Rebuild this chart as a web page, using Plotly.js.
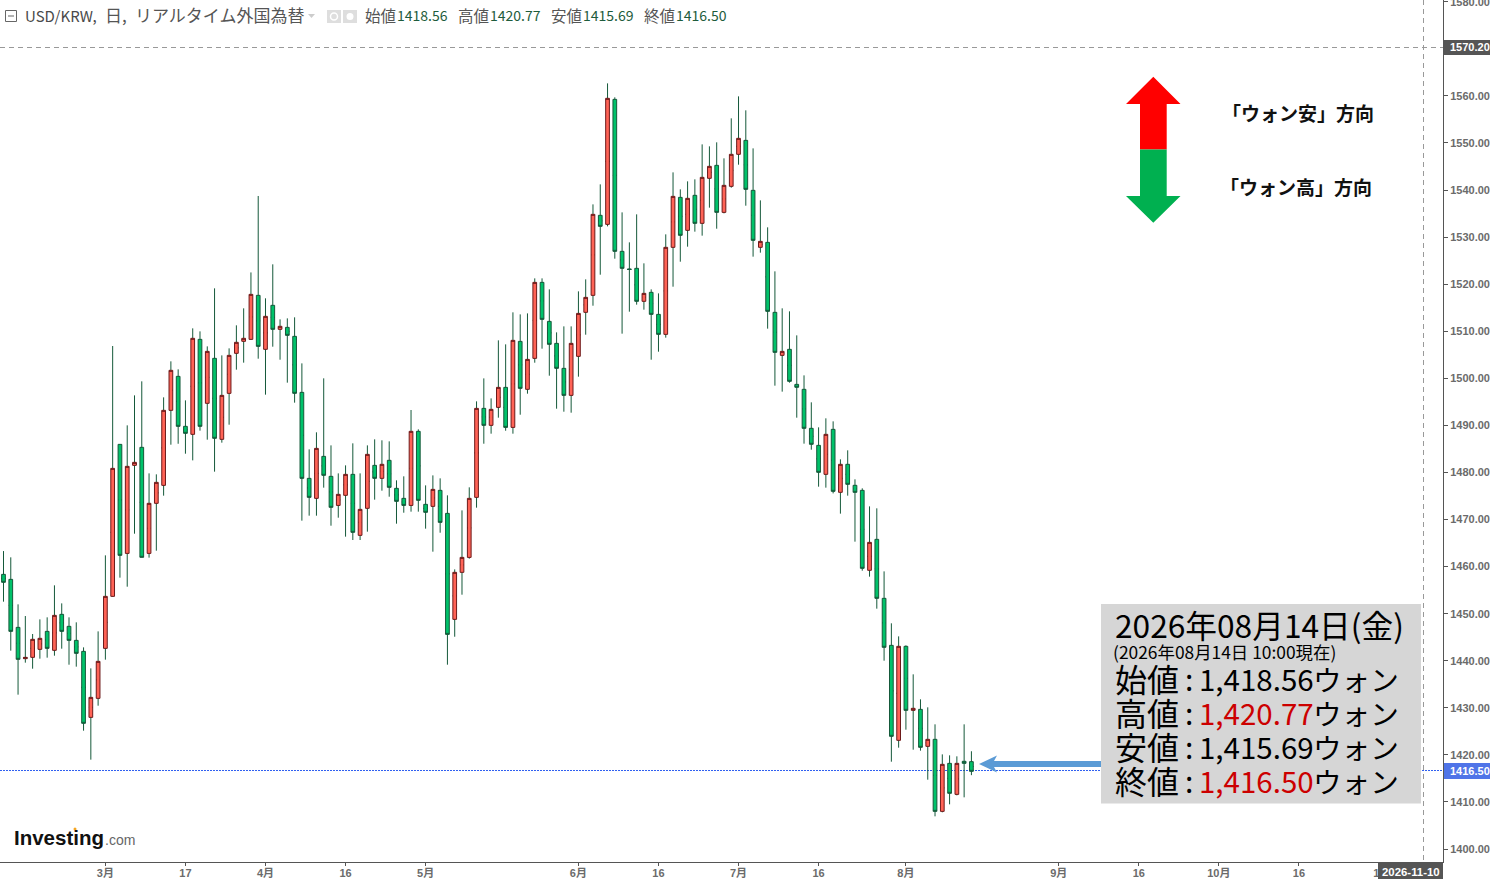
<!DOCTYPE html>
<html>
<head>
<meta charset="utf-8">
<script src="https://cdn.plot.ly/plotly-3.0.1.min.js"></script>
<style>html,body{margin:0;padding:0;background:#fff;overflow:hidden}</style>
</head>
<body>
<div id="chart" style="width:1490px;height:879px"></div>
<script>
const opens = [1458.35,1457.29,1447.09,1440.44,1440.72,1442.42,1446.24,1442.21,1449.86,1447.31,1444.33,1441.99,1427.97,1432.01,1442.63,1453.68,1485.97,1462.81,1481.51,1485.34,1462.81,1473.44,1477.26,1493.20,1500.42,1489.80,1488.10,1508.28,1494.69,1504.25,1487.04,1496.81,1505.31,1507.86,1508.28,1517.63,1506.16,1515.51,1510.41,1510.83,1508.92,1497.02,1478.75,1474.50,1483.42,1479.18,1473.00,1475.14,1479.60,1466.64,1472.38,1481.51,1478.75,1482.58,1476.63,1474.50,1473.00,1488.74,1473.23,1472.80,1476.20,1471.31,1448.79,1458.78,1461.96,1474.71,1493.62,1490.01,1493.83,1498.08,1489.58,1507.85,1497.66,1504.24,1520.39,1512.10,1507.43,1502.12,1496.38,1504.67,1514.02,1517.63,1534.63,1532.71,1559.27,1526.98,1523.15,1523.37,1516.36,1518.27,1513.59,1509.34,1527.83,1538.45,1531.44,1538.88,1532.93,1542.49,1545.25,1535.26,1540.79,1547.59,1550.56,1539.94,1527.83,1528.89,1514.02,1504.88,1506.16,1498.72,1497.66,1489.38,1485.76,1479.60,1489.16,1475.78,1481.73,1477.27,1476.20,1459.21,1465.79,1453.26,1443.27,1423.09,1443.06,1429.46,1429.67,1421.81,1423.30,1408.00,1418.20,1411.61,1418.63,1418.56];
const highs = [1463.30,1461.97,1451.98,1449.50,1445.68,1448.79,1449.22,1456.02,1452.19,1449.22,1448.16,1442.84,1438.38,1446.24,1462.39,1506.87,1485.97,1490.01,1496.38,1499.36,1479.81,1479.60,1495.96,1503.61,1501.91,1495.32,1510.62,1509.98,1506.79,1519.12,1504.88,1506.37,1511.26,1514.87,1522.50,1538.74,1517.00,1524.22,1512.53,1512.74,1512.96,1503.18,1484.91,1488.53,1500.00,1485.76,1479.81,1481.51,1486.19,1479.81,1485.76,1487.04,1486.83,1486.61,1478.33,1479.18,1493.27,1489.16,1477.26,1479.38,1478.75,1475.14,1459.41,1471.95,1476.84,1495.11,1499.99,1495.74,1508.07,1507.22,1514.02,1513.59,1513.80,1521.24,1521.24,1518.90,1509.77,1511.04,1511.04,1518.48,1521.03,1536.96,1541.21,1562.67,1559.70,1535.26,1528.89,1534.84,1524.43,1518.90,1518.05,1530.59,1543.76,1540.15,1541.85,1542.28,1549.71,1549.29,1550.14,1546.74,1555.24,1559.91,1556.94,1548.86,1537.81,1532.08,1522.73,1514.87,1514.23,1509.13,1500.63,1494.90,1489.59,1491.50,1490.86,1482.79,1484.70,1478.54,1476.63,1472.80,1472.38,1458.99,1447.95,1445.18,1443.27,1437.11,1431.80,1430.10,1426.49,1420.11,1419.90,1419.69,1426.49,1420.77];
const lows = [1452.55,1442.14,1432.79,1439.59,1438.31,1440.44,1440.65,1441.07,1442.56,1439.16,1438.74,1425.14,1418.98,1430.45,1440.23,1453.60,1457.65,1455.73,1466.99,1461.97,1461.90,1463.38,1475.07,1485.90,1486.10,1483.99,1482.57,1488.88,1486.97,1480.17,1486.33,1490.15,1501.84,1503.33,1508.20,1504.17,1496.53,1506.72,1503.96,1499.08,1494.83,1469.76,1470.82,1470.82,1476.77,1468.69,1470.39,1466.36,1465.65,1465.65,1467.42,1474.22,1476.13,1474.85,1469.12,1471.45,1471.67,1471.67,1468.06,1463.17,1467.20,1439.16,1445.10,1454.03,1461.68,1472.52,1486.11,1488.24,1491.64,1488.87,1488.24,1492.27,1496.74,1503.32,1506.30,1500.56,1493.55,1492.91,1492.70,1500.35,1509.27,1515.43,1522.02,1532.29,1525.42,1509.49,1514.16,1515.65,1514.59,1503.96,1505.66,1508.64,1519.47,1524.78,1527.97,1531.16,1530.31,1536.26,1531.79,1535.05,1540.50,1545.39,1536.68,1525.85,1526.70,1510.55,1498.44,1497.17,1499.08,1491.64,1486.12,1484.84,1476.98,1476.77,1475.56,1471.25,1475.07,1465.30,1459.13,1457.86,1451.06,1440.01,1418.55,1421.53,1425.35,1421.10,1420.89,1414.73,1406.94,1407.79,1409.49,1411.40,1410.98,1415.69];
const closes = [1456.66,1446.24,1440.30,1440.72,1444.55,1444.76,1442.63,1449.64,1446.24,1444.33,1441.57,1426.70,1432.22,1439.87,1453.68,1480.87,1462.39,1481.30,1482.15,1461.97,1473.44,1477.90,1493.20,1501.70,1489.80,1488.31,1508.50,1489.80,1505.73,1487.25,1496.38,1504.88,1507.65,1508.50,1517.84,1506.79,1513.17,1510.41,1511.05,1509.13,1496.81,1478.75,1474.71,1485.12,1479.39,1472.59,1475.35,1479.60,1467.28,1472.16,1483.85,1478.75,1481.73,1476.84,1473.86,1473.00,1488.74,1474.08,1471.53,1476.41,1469.40,1445.60,1458.78,1461.96,1474.50,1493.62,1490.01,1493.41,1498.08,1489.58,1508.07,1497.87,1504.03,1520.39,1512.53,1507.22,1502.12,1496.38,1507.43,1513.80,1517.20,1534.84,1532.29,1559.49,1526.98,1523.37,1523.15,1516.36,1518.05,1513.59,1509.34,1527.83,1538.66,1530.38,1538.24,1532.93,1542.70,1545.04,1535.26,1541.00,1547.59,1550.99,1540.15,1529.32,1529.10,1514.23,1505.52,1505.73,1499.36,1498.09,1489.38,1485.98,1480.03,1488.10,1475.99,1481.73,1477.48,1475.78,1459.63,1465.15,1453.26,1442.85,1423.94,1443.06,1429.46,1429.89,1421.60,1423.30,1408.00,1417.99,1411.83,1418.20,1418.20,1416.50];

const sessions = opens.map((_, i) => i);
const xTickSessions = [14,25,36,47,58,79,90,101,112,124,145,156,167,178,189];
const xTickLabels = ['3月','17','4月','16','5月','6月','16','7月','16','8月','9月','16','10月','16','11'];
const crosshairPrice = 1570.20;
const lastClose = 1416.50;
const ohlcLabels = ['始値','高値','安値','終値'];
const ohlcText = ['1,418.56','1,420.77','1,415.69','1,416.50'];
const ohlcHeader = ['1418.56','1420.77','1415.69','1416.50'];

const W = 1490, H = 879, R = 47, B = 17;
const PW = W - R, PH = H - B;
const px = x => x / PW;
const py = y => 1 - y / PH;
const poly = pts => 'M' + pts.map(p => px(p[0]) + ' ' + py(p[1])).join(' L') + ' Z';
const GOTHIC = '"Noto Sans CJK JP", "Noto Sans", sans-serif';
const ARIAL = '"Liberation Sans", "Noto Sans CJK JP", sans-serif';
const WICK = '#15593a', GREEN = '#00c26a', RED = '#ff6356', REDLINE = '#6d1a1a', AXIS = '#555555';

const mids = opens.map((o, i) => (o + closes[i]) / 2);
const wickTrace = {
  type: 'candlestick', x: sessions, open: mids, high: highs, low: lows, close: mids,
  increasing: {line: {color: WICK, width: 1}, fillcolor: WICK},
  decreasing: {line: {color: WICK, width: 1}, fillcolor: WICK},
  hoverinfo: 'skip', showlegend: false
};
const bodyTrace = {
  type: 'candlestick', x: sessions, open: opens, close: closes,
  high: opens.map((o, i) => Math.max(o, closes[i])),
  low: opens.map((o, i) => Math.min(o, closes[i])),
  increasing: {line: {color: REDLINE, width: 1}, fillcolor: RED},
  decreasing: {line: {color: WICK, width: 1}, fillcolor: GREEN},
  hoverinfo: 'skip', showlegend: false
};

function note(text, x, y, size, color, family, weight) {
  const font = {family: family || GOTHIC, size, color};
  if (weight) font.weight = weight;
  return {
    text, x: px(x), y: py(y), xref: 'paper', yref: 'paper', xanchor: 'left', yanchor: 'middle',
    showarrow: false, borderpad: 0, font
  };
}
const annotations = [
  note('USD/KRW,', 23.5, 15, 15, '#4a4a4a'),
  note('日,', 103.5, 14.5, 17, '#555555'),
  note('リアルタイム外国為替', 133.5, 14.5, 17, '#555555'),
  note('「ウォン安」方向', 1220.5, 112.5, 19, '#111111', GOTHIC, 700),
  note('「ウォン高」方向', 1218.5, 186, 19, '#111111', GOTHIC, 700),
  note('2026年08月14日(金)', 1114, 624, 31.7, '#000000'),
  note('(2026年08月14日 10:00現在)', 1112, 651.5, 17.4, '#000000'),
  note('<b>Investing</b>', 13, 837.5, 20.5, '#111111', ARIAL),
  note('.com', 103.5, 839.5, 14, '#666666', ARIAL),
  note('<b>' + crosshairPrice.toFixed(2) + '</b>', 1448.5, 47.5, 11, '#ffffff', ARIAL),
  note('<b>' + lastClose.toFixed(2) + '</b>', 1448.5, 771, 11, '#ffffff', ARIAL),
  note('<b>2026-11-10</b>', 1381, 872, 11.4, '#ffffff', ARIAL)
];
const headerX = [364, 457, 550, 643];
ohlcLabels.forEach((label, i) => {
  annotations.push(note(label, headerX[i], 15, 15.5, '#555555'));
  annotations.push(note(ohlcHeader[i], headerX[i] + 32, 15.5, 14, '#1e5c3c'));
});
const boxY = [677.5, 711.5, 745.5, 779.5];
const valueColor = ['#000000', '#cc0000', '#000000', '#cc0000'];
ohlcLabels.forEach((label, i) => {
  annotations.push(note(label, 1114, boxY[i], 32, '#000000'));
  annotations.push(note(':', 1184, boxY[i], 30, '#000000'));
  annotations.push(note(ohlcText[i], 1197.5, boxY[i] + 0.5, 29.5, valueColor[i]));
  annotations.push(note('ウォン', 1312, boxY[i] + 0.5, 28.6, '#000000'));
});

const paperRect = (x0, y0, x1, y1, fill, line) => ({
  type: 'rect', xref: 'paper', yref: 'paper', x0: px(x0), x1: px(x1), y0: py(y0), y1: py(y1),
  fillcolor: fill, line: line || {width: 0}, layer: 'above'
});
const paperLine = (x0, y0, x1, y1, line, layer) => ({
  type: 'line', xref: 'paper', yref: 'paper', x0: px(x0), x1: px(x1), y0: py(y0), y1: py(y1), line, layer: layer || 'above'
});
const polyShape = (pts, fill) => ({
  type: 'path', xref: 'paper', yref: 'paper', path: poly(pts), fillcolor: fill, line: {width: 0}, layer: 'above'
});

const shapes = [
  paperLine(0, 770.5, 1443, 770.5, {color: '#3060f0', width: 1, dash: '2px 1px'}, 'below'),
  paperLine(0, 47.5, 1443, 47.5, {color: '#999999', width: 1, dash: '5px 4px'}, 'below'),
  paperLine(1423.5, 0, 1423.5, 862, {color: '#999999', width: 1, dash: '5px 4px'}, 'below'),
  paperRect(1101, 604, 1421, 803.5, '#d6d6d6'),
  polyShape([[1126,104],[1153.3,76.7],[1180.5,104],[1166.7,104],[1166.7,149.5],[1140,149.5],[1140,104]], '#ff0000'),
  polyShape([[1126,196],[1153.3,222.7],[1180.5,196],[1166.7,196],[1166.7,149.5],[1140,149.5],[1140,196]], '#00b050'),
  polyShape([[979,764],[997,755.5],[994,761],[1101,761],[1101,767],[994,767],[997,772.5]], '#5b9bd5'),
  paperRect(1444, 40, 1490, 55, '#555555'),
  paperRect(1444, 763, 1490, 779, '#4f74e8'),
  paperRect(1378, 863, 1443, 879, '#555555'),
  paperRect(5.5, 10.5, 16.5, 21.5, 'rgba(0,0,0,0)', {color: '#666666', width: 1}),
  paperLine(8, 16, 14, 16, {color: '#666666', width: 1}),
  polyShape([[308,14],[315,14],[311.5,18]], '#cccccc'),
  paperRect(327, 10, 341, 23, '#dedede'),
  paperRect(343, 10, 357, 23, '#dedede'),
  {type: 'circle', xref: 'paper', yref: 'paper', x0: px(330.5), x1: px(337.5), y0: py(13), y1: py(20), fillcolor: 'rgba(0,0,0,0)', line: {color: '#ffffff', width: 1.5}, layer: 'above'},
  {type: 'circle', xref: 'paper', yref: 'paper', x0: px(346.5), x1: px(353.5), y0: py(13), y1: py(20), fillcolor: '#ffffff', line: {width: 0}, layer: 'above'},
  {type: 'circle', xref: 'paper', yref: 'paper', x0: px(73.5), x1: px(76.5), y0: py(827.5), y1: py(830.5), fillcolor: '#f5a623', line: {width: 0}, layer: 'above'}
];

const tickFont = {family: ARIAL, size: 11, color: '#6b6b6b', weight: 'bold'};
const layout = {
  width: W, height: H, margin: {l: 0, r: R, t: 0, b: B, pad: 0},
  paper_bgcolor: '#ffffff', plot_bgcolor: '#ffffff', showlegend: false, boxgap: 0.27,
  xaxis: {
    type: 'linear', range: [-0.481, 197.8], rangeslider: {visible: false}, showgrid: false, zeroline: false,
    tickmode: 'array', tickvals: xTickSessions, ticktext: xTickLabels, ticks: 'outside', ticklen: 3, tickcolor: AXIS,
    tickangle: 0, tickfont: tickFont, showline: true, linecolor: AXIS, linewidth: 1,
    ticklabelstandoff: -2, ticklabeloverflow: 'allow'
  },
  yaxis: {
    side: 'right', range: [1397.24, 1580.38], showgrid: false, zeroline: false, dtick: 10, tick0: 1400,
    tickformat: '.2f', ticks: 'outside', ticklen: 4, tickcolor: AXIS, tickfont: tickFont,
    showline: true, linecolor: AXIS, linewidth: 1, ticklabeloverflow: 'allow'
  },
  shapes, annotations
};
Plotly.newPlot('chart', [wickTrace, bodyTrace], layout, {staticPlot: true, displayModeBar: false});
</script>
</body>
</html>
